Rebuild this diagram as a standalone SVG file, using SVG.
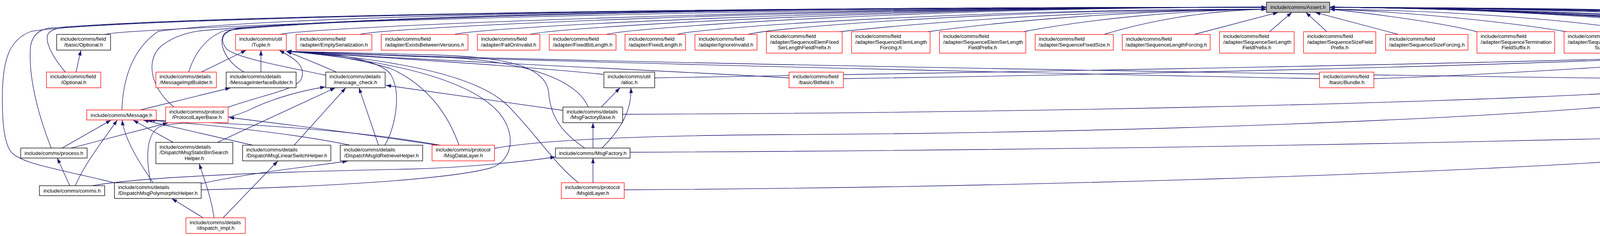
<svg xmlns="http://www.w3.org/2000/svg" width="5750" height="603" viewBox="0 0 5750 603">
<defs>
<style>
.n rect{fill:#fff;stroke-width:1.33}
.r rect{stroke:#ff0000}
.b rect{stroke:#000}
.g rect{fill:#bfbfbf;stroke:#000}
text{font-family:"Liberation Sans",Arial,Helvetica,sans-serif;font-size:13.33px;fill:#000}
.c{text-anchor:middle}
.e path{fill:none;stroke:#191970;stroke-width:1.33;marker-end:url(#ah)}
</style>
<marker id="ah" viewBox="0 0 13.3 9.3" refX="13.3" refY="4.65" markerWidth="13.3" markerHeight="9.3" markerUnits="userSpaceOnUse" orient="auto"><path d="M0,0 L13.3,4.65 L0,9.3 z" fill="#191970"/></marker>
</defs>
<rect width="5750" height="603" fill="#fff"/>
<g id="edges" class="e">
<!-- top row (left) to Assert -->
<path d="M268,88 C328,70 1755,18.5 3242,18.5"/>
<path d="M717,88 C777,70 1980,18.5 3242,18.5"/>
<path d="M921,88 C981,70 2081,18.5 3242,18.5"/>
<path d="M1163,88 C1223,70 2202,18.5 3242,18.5"/>
<path d="M1357,88 C1417,70 2300,18.5 3242,18.5"/>
<path d="M1552,88 C1612,70 2397,18.5 3242,18.5"/>
<path d="M1733,88 C1793,70 2487,23.5 3242,23.5"/>
<path d="M1915,88 C1975,70 2578,23.5 3242,23.5"/>
<path d="M2150,81 C2423,52 2805,26.5 3242,23.5"/>
<path d="M2375,81 C2592,52 2895,26.5 3242,23.5"/>
<path d="M2620,81 C2775,52 2993,26.5 3242,23.5"/>
<path d="M2826,88 C2930,56 3076,27 3242,23.5"/>
<!-- bottom of Assert -->
<path d="M3057,88 L3272,31.7"/>
<path d="M3250,81 L3307,31.7"/>
<path d="M3397,81 L3343,31.7"/>
<path d="M3580,88 L3367,31.7"/>
<!-- top row (right) to Assert -->
<path d="M3781,81 C3700,60 3520,35 3404,23.5"/>
<path d="M4010,81 C3850,55 3600,30 3404,23.5"/>
<path d="M4245,88 C4120,62 3800,28 3404,23.5"/>
<path d="M4765,88 C4690,70 4300,30 3404,18.5"/>
<path d="M4979,88 C4930,72 4400,25 3404,18.5"/>
<path d="M5233,88 C5150,62 4500,22 3404,18.5"/>
<path d="M5396,88 C5300,60 4600,22 3404,18.5"/>
<path d="M5572,88 C5450,60 4700,22 3404,18.5"/>
<!-- left routed to Assert -->
<path d="M293,467 C150,432 60,420 30,390 C8,365 6,300 6,250 C6,150 25,100 80,80 C300,45 1800,18.5 3242,18.5"/>
<path d="M131,378 C100,300 72,200 78,120 C82,90 100,76 125,72 C500,40 1800,18.5 3242,18.5"/>
<path d="M167,184 C130,140 112,100 125,84 C135,74 150,71 175,69 C600,40 1800,18.5 3242,18.5"/>
<path d="M312,281 C315,200 340,125 405,80 C700,40 1800,18.5 3242,18.5"/>
<path d="M446,274 C390,230 370,160 410,120 C440,95 480,82 520,78 C900,45 1800,18.5 3242,18.5"/>
<path d="M483,184 C500,130 530,95 575,78 C900,45 1800,18.5 3242,18.5"/>
<path d="M625,184 C580,160 555,110 575,85 C590,75 610,72 635,70 C1000,42 1800,18.5 3242,18.5"/>
<path d="M833,192 C700,165 600,145 580,125 C560,100 570,80 610,72 C1000,42 1800,18.5 3242,18.5"/>
<!-- right routed to Assert -->
<path d="M1676,199 C2500,185 4000,160 4360,142 C4390,134 4398,100 4383,78 C4365,62 3900,22 3404,18.5"/>
<path d="M2159,201 C3000,188 4100,162 4412,138 C4436,128 4444,98 4427,76 C4405,60 3900,22 3404,18.5"/>
<path d="M3517,201 C3800,192 4300,162 4465,142 C4490,130 4496,100 4478,77 C4455,60 3900,22 3404,18.5"/>
<path d="M4276,197 C4400,178 4480,152 4505,128 C4522,110 4522,88 4504,76 C4480,60 3900,22 3404,18.5"/>
<path d="M1594,292 C2800,288 4000,255 4300,226 C4450,208 4520,160 4535,115 C4542,95 4540,84 4527,76 C4500,60 3900,22 3404,18.5"/>
<path d="M1266,379 C1400,355 1700,346 2000,344 C3000,340 4100,292 4350,246 C4480,218 4550,170 4565,120 C4570,100 4568,86 4553,76 C4520,60 3900,22 3404,18.5"/>
<path d="M1613,389 C2500,385 3500,372 4500,344 C4650,334 4722,300 4733,240 C4742,190 4730,135 4700,98 C4688,84 4675,78 4655,74 C4400,48 3900,22 3404,18.5"/>
<path d="M1598,485 C2500,480 3800,447 4500,386 C4800,352 4922,330 4927,290 C4931,250 4931,170 4926,130 C4922,96 4908,82 4878,76 C4500,50 3900,22 3404,18.5"/>
<path d="M5075,184.3 C5100,160 5125,120 5112,92 C5102,74 5080,66 5050,63 C4600,35 3900,22 3404,18.5"/>
<path d="M5255,273.5 C5230,200 5180,110 5135,82 C5115,72 5090,67 5060,64 C4600,35 3900,22 3404,18.5"/>
<path d="M5428,199 C5600,175 5700,140 5710,110 C5715,86 5690,72 5650,68 C5300,48 4000,22 3404,18.5"/>
<path d="M5523,273.5 C5640,215 5742,150 5742,110 C5742,86 5722,72 5682,68 C5300,48 4000,22 3404,18.5"/>
<!-- internal edges -->
<path d="M194.5,184.3 L207,128.5"/>
<path d="M515,184.3 L630,128.5"/>
<path d="M668,184.3 L668,128.5"/>
<path d="M861,184.3 C830,170 780,150 733,131"/>
<path d="M359,281 L590,224.5"/>
<path d="M584,274 C680,240 760,230 772,200 C785,165 745,145 715,128.5"/>
<path d="M159,378.3 L284,307"/>
<path d="M182,378.3 L430,314"/>
<path d="M178.6,474.5 L146.7,404"/>
<path d="M193,474.5 C215,420 270,350 300,307"/>
<path d="M236,474.5 C400,445 900,435 1050,432 C1200,428 1350,412 1422,401"/>
<path d="M392,467 C360,420 320,360 312.5,307"/>
<path d="M386,467 C372,400 375,340 410,323 C450,310 560,318 640,280 C700,250 780,230 833,222"/>
<path d="M515,469 C650,440 800,425 890,411.5"/>
<path d="M515,485 C800,478 1150,460 1260,428 C1320,405 1320,330 1270,280 C1180,190 950,150 733,131"/>
<path d="M443,363.7 L341,307"/>
<path d="M557,363.7 L858,224.5"/>
<path d="M647,371 L367,307"/>
<path d="M753,371 L885,224.5"/>
<path d="M896,371 C750,340 500,315 376,307"/>
<path d="M969,371 L919,224.5"/>
<path d="M985,371 C1010,330 1030,240 1000,190 C970,150 850,135 733,131"/>
<path d="M520,556.5 L440,507.5"/>
<path d="M548,556.5 C540,500 520,450 510,418.5"/>
<path d="M571,556.5 L711,411.5"/>
<path d="M1127,371 C900,330 600,315 383,307"/>
<path d="M1120,371 C950,345 750,320 586,300"/>
<path d="M1175,371 C1150,300 1100,220 1000,175 C900,145 800,135 733,131"/>
<path d="M1441,282 L988,218"/>
<path d="M1539,273.5 L1587,224.5"/>
<path d="M1506,273.5 C1470,190 1300,150 1100,145 C950,140 800,134 733,131"/>
<path d="M1518,378.3 L1518,314"/>
<path d="M1541,378.3 C1590,330 1618,280 1615,224.5"/>
<path d="M1497,378.3 C1440,340 1410,300 1405,240 C1400,180 1330,145 1100,140 C900,136 780,133 733,131"/>
<path d="M1518,467 L1518,404"/>
<path d="M1481,467 C1420,420 1370,340 1300,270 C1220,190 1000,150 733,131"/>
<path d="M1544,190 C1300,165 900,143 733,131"/>
<path d="M2020,199 C1700,180 1000,150 733,131"/>
<path d="M3378,201 C2800,190 1200,155 733,131"/>
<path d="M4138,200 C3500,192 1300,158 733,131"/>
<path d="M5050,184.3 L5035.5,128.5"/>
<path d="M5347,184.3 L5301,128.5"/>
<path d="M5263,273.5 L5282,128.5"/>
<path d="M5282,273.5 L5342,224.5"/>
<path d="M5442,273.5 L5388,224.5"/>
<path d="M5466,273.5 C5465,220 5445,180 5400,160 C5370,145 5350,135 5339,128.5"/>
</g>
<g id="nodes">
<g id="n_assert" class="n g"><rect x="3242" y="5.5" width="162" height="26"/><text class="c" x="3323" y="23.1">include/comms/Assert.h</text></g>
<g id="n_basic_optional" class="n b"><rect x="145" y="88" width="138" height="40"/><text x="154.5" y="104">include/comms/field</text><text class="c" x="214" y="118.7">/basic/Optional.h</text></g>
<g id="n_tuple" class="n r"><rect x="603" y="88" width="130" height="40"/><text x="612.5" y="104">include/comms/util</text><text class="c" x="668" y="118.7">/Tuple.h</text></g>
<g id="n_empty_serialization" class="n r"><rect x="758" y="88" width="194" height="40"/><text x="767.5" y="104">include/comms/field</text><text class="c" x="855" y="118.7">/adapter/EmptySerialization.h</text></g>
<g id="n_exists_between" class="n r"><rect x="976" y="88" width="222" height="40"/><text x="985.5" y="104">include/comms/field</text><text class="c" x="1087" y="118.7">/adapter/ExistsBetweenVersions.h</text></g>
<g id="n_fail_on_invalid" class="n r"><rect x="1222" y="88" width="160" height="40"/><text x="1231.5" y="104">include/comms/field</text><text class="c" x="1302" y="118.7">/adapter/FailOnInvalid.h</text></g>
<g id="n_fixed_bit_length" class="n r"><rect x="1406" y="88" width="171" height="40"/><text x="1415.5" y="104">include/comms/field</text><text class="c" x="1491.5" y="118.7">/adapter/FixedBitLength.h</text></g>
<g id="n_fixed_length" class="n r"><rect x="1600" y="88" width="155" height="40"/><text x="1609.5" y="104">include/comms/field</text><text class="c" x="1677.5" y="118.7">/adapter/FixedLength.h</text></g>
<g id="n_ignore_invalid" class="n r"><rect x="1779" y="88" width="159" height="40"/><text x="1788.5" y="104">include/comms/field</text><text class="c" x="1858.5" y="118.7">/adapter/IgnoreInvalid.h</text></g>
<g id="n_seq_elem_fixed" class="n r"><rect x="1962" y="81" width="194" height="54.7"/><text x="1971.5" y="97">include/comms/field</text><text x="1971.5" y="111.7">/adapter/SequenceElemFixed</text><text class="c" x="2059" y="126.3">SerLengthFieldPrefix.h</text></g>
<g id="n_seq_elem_length_forcing" class="n r"><rect x="2180" y="81" width="201" height="54.7"/><text x="2189.5" y="97">include/comms/field</text><text x="2189.5" y="111.7">/adapter/SequenceElemLength</text><text class="c" x="2280.5" y="126.3">Forcing.h</text></g>
<g id="n_seq_elem_ser_length" class="n r"><rect x="2405" y="81" width="221" height="54.7"/><text x="2414.5" y="97">include/comms/field</text><text x="2414.5" y="111.7">/adapter/SequenceElemSerLength</text><text class="c" x="2515.5" y="126.3">FieldPrefix.h</text></g>
<g id="n_seq_fixed_size" class="n r"><rect x="2650" y="88" width="200" height="40"/><text x="2659.5" y="104">include/comms/field</text><text class="c" x="2750" y="118.7">/adapter/SequenceFixedSize.h</text></g>
<g id="n_seq_length_forcing" class="n r"><rect x="2873" y="88" width="225" height="40"/><text x="2882.5" y="104">include/comms/field</text><text class="c" x="2985.5" y="118.7">/adapter/SequenceLengthForcing.h</text></g>
<g id="n_seq_ser_length" class="n r"><rect x="3122" y="81" width="191" height="54.7"/><text x="3131.5" y="97">include/comms/field</text><text x="3131.5" y="111.7">/adapter/SequenceSerLength</text><text class="c" x="3217.5" y="126.3">FieldPrefix.h</text></g>
<g id="n_seq_size_field_prefix" class="n r"><rect x="3337" y="81" width="185" height="54.7"/><text x="3346.5" y="97">include/comms/field</text><text x="3346.5" y="111.7">/adapter/SequenceSizeField</text><text class="c" x="3429.5" y="126.3">Prefix.h</text></g>
<g id="n_seq_size_forcing" class="n r"><rect x="3547" y="88" width="211" height="40"/><text x="3556.5" y="104">include/comms/field</text><text class="c" x="3652.5" y="118.7">/adapter/SequenceSizeForcing.h</text></g>
<g id="n_seq_termination" class="n r"><rect x="3781" y="81" width="199" height="54.7"/><text x="3790.5" y="97">include/comms/field</text><text x="3790.5" y="111.7">/adapter/SequenceTermination</text><text class="c" x="3880.5" y="126.3">FieldSuffix.h</text></g>
<g id="n_seq_trailing" class="n r"><rect x="4004" y="81" width="201" height="54.7"/><text x="4013.5" y="97">include/comms/field</text><text x="4013.5" y="111.7">/adapter/SequenceTrailingField</text><text class="c" x="4104.5" y="126.3">Suffix.h</text></g>
<g id="n_var_length" class="n r"><rect x="4229" y="88" width="143" height="40"/><text x="4238.5" y="104">include/comms/field</text><text class="c" x="4300.5" y="118.7">/adapter/VarLength.h</text></g>
<g id="n_no_value" class="n r"><rect x="4751" y="88" width="139" height="40"/><text x="4760.5" y="104">include/comms/field</text><text class="c" x="4820.5" y="118.7">/NoValue.h</text></g>
<g id="n_array_view" class="n r"><rect x="4964" y="88" width="131" height="40"/><text x="4973.5" y="104">include/comms/util</text><text class="c" x="5029.5" y="118.7">/ArrayView.h</text></g>
<g id="n_static_vector" class="n r"><rect x="5220" y="88" width="131" height="40"/><text x="5229.5" y="104">include/comms/util</text><text class="c" x="5285.5" y="118.7">/StaticVector.h</text></g>
<g id="n_assign_helper" class="n r"><rect x="5375" y="88" width="157" height="40"/><text x="5384.5" y="104">include/comms/util</text><text class="c" x="5453.5" y="118.7">/details/AssignHelper.h</text></g>
<g id="n_static_queue" class="n b"><rect x="5556" y="88" width="131" height="40"/><text x="5565.5" y="104">include/comms/util</text><text class="c" x="5621.5" y="118.7">/StaticQueue.h</text></g>
<g id="n_field_optional" class="n r"><rect x="119" y="184.3" width="139" height="40"/><text x="128.5" y="200.3">include/comms/field</text><text class="c" x="188.5" y="215">/Optional.h</text></g>
<g id="n_message_impl_builder" class="n r"><rect x="399" y="184.3" width="155" height="40"/><text x="408.5" y="200.3">include/comms/details</text><text class="c" x="476.5" y="215">/MessageImplBuilder.h</text></g>
<g id="n_message_interface_builder" class="n b"><rect x="579" y="184.3" width="179" height="40"/><text x="588.5" y="200.3">include/comms/details</text><text class="c" x="668.5" y="215">/MessageInterfaceBuilder.h</text></g>
<g id="n_message_check" class="n b"><rect x="834" y="184.3" width="152" height="40"/><text x="843.5" y="200.3">include/comms/details</text><text class="c" x="910" y="215">/message_check.h</text></g>
<g id="n_alloc" class="n b"><rect x="1546" y="184.3" width="130" height="40"/><text x="1555.5" y="200.3">include/comms/util</text><text class="c" x="1611" y="215">/alloc.h</text></g>
<g id="n_bitfield" class="n r"><rect x="2020" y="184.3" width="139" height="40"/><text x="2029.5" y="200.3">include/comms/field</text><text class="c" x="2089.5" y="215">/basic/Bitfield.h</text></g>
<g id="n_bundle" class="n r"><rect x="3378" y="184.3" width="139" height="40"/><text x="3387.5" y="200.3">include/comms/field</text><text class="c" x="3447.5" y="215">/basic/Bundle.h</text></g>
<g id="n_variant" class="n r"><rect x="4138" y="184.3" width="138" height="40"/><text x="4147.5" y="200.3">include/comms/field</text><text class="c" x="4207" y="215">/basic/Variant.h</text></g>
<g id="n_string_view" class="n r"><rect x="4989" y="184.3" width="132" height="40"/><text x="4998.5" y="200.3">include/comms/util</text><text class="c" x="5055" y="215">/StringView.h</text></g>
<g id="n_static_string" class="n r"><rect x="5298" y="184.3" width="130" height="40"/><text x="5307.5" y="200.3">include/comms/util</text><text class="c" x="5363" y="215">/StaticString.h</text></g>
<g id="n_message" class="n r"><rect x="222" y="281" width="178" height="25.5"/><text class="c" x="311" y="298.6">include/comms/Message.h</text></g>
<g id="n_protocol_layer_base" class="n r"><rect x="424" y="273.5" width="160" height="40"/><text x="433.5" y="289.5">include/comms/protocol</text><text class="c" x="504" y="304.2">/ProtocolLayerBase.h</text></g>
<g id="n_msg_factory_base" class="n b"><rect x="1441" y="273.5" width="153" height="40"/><text x="1450.5" y="289.5">include/comms/details</text><text class="c" x="1517.5" y="304.2">/MsgFactoryBase.h</text></g>
<g id="n_array_list" class="n r"><rect x="5191" y="273.5" width="139" height="40"/><text x="5200.5" y="289.5">include/comms/field</text><text class="c" x="5260.5" y="304.2">/basic/ArrayList.h</text></g>
<g id="n_string" class="n r"><rect x="5396" y="273.5" width="139" height="40"/><text x="5405.5" y="289.5">include/comms/field</text><text class="c" x="5465.5" y="304.2">/basic/String.h</text></g>
<g id="n_process" class="n b"><rect x="53" y="378.3" width="170" height="25.5"/><text class="c" x="138" y="395.9">include/comms/process.h</text></g>
<g id="n_static_bin_search" class="n b"><rect x="399" y="363.7" width="197" height="54.7"/><text x="408.5" y="379.7">include/comms/details</text><text x="408.5" y="394.4">/DispatchMsgStaticBinSearch</text><text class="c" x="497.5" y="409">Helper.h</text></g>
<g id="n_linear_switch" class="n b"><rect x="621" y="371" width="226" height="40"/><text x="630.5" y="387">include/comms/details</text><text class="c" x="734" y="401.7">/DispatchMsgLinearSwitchHelper.h</text></g>
<g id="n_id_retrieve" class="n b"><rect x="871" y="371" width="211" height="40"/><text x="880.5" y="387">include/comms/details</text><text class="c" x="976.5" y="401.7">/DispatchMsgIdRetrieveHelper.h</text></g>
<g id="n_msg_data_layer" class="n r"><rect x="1106" y="371" width="160" height="40"/><text x="1115.5" y="387">include/comms/protocol</text><text class="c" x="1186" y="401.7">/MsgDataLayer.h</text></g>
<g id="n_msg_factory" class="n b"><rect x="1422" y="378.3" width="191" height="25.5"/><text class="c" x="1517.5" y="395.9">include/comms/MsgFactory.h</text></g>
<g id="n_comms" class="n b"><rect x="101" y="474.5" width="167" height="25.5"/><text class="c" x="184.5" y="492.1">include/comms/comms.h</text></g>
<g id="n_polymorphic" class="n b"><rect x="293" y="467" width="222" height="40"/><text x="302.5" y="483">include/comms/details</text><text class="c" x="404" y="497.7">/DispatchMsgPolymorphicHelper.h</text></g>
<g id="n_msg_id_layer" class="n r"><rect x="1437" y="467" width="161" height="40"/><text x="1446.5" y="483">include/comms/protocol</text><text class="c" x="1517.5" y="497.7">/MsgIdLayer.h</text></g>
<g id="n_dispatch_impl" class="n r"><rect x="476" y="556.5" width="152" height="40"/><text x="485.5" y="572.5">include/comms/details</text><text class="c" x="552" y="587.2">/dispatch_impl.h</text></g>
</g>
</svg>
